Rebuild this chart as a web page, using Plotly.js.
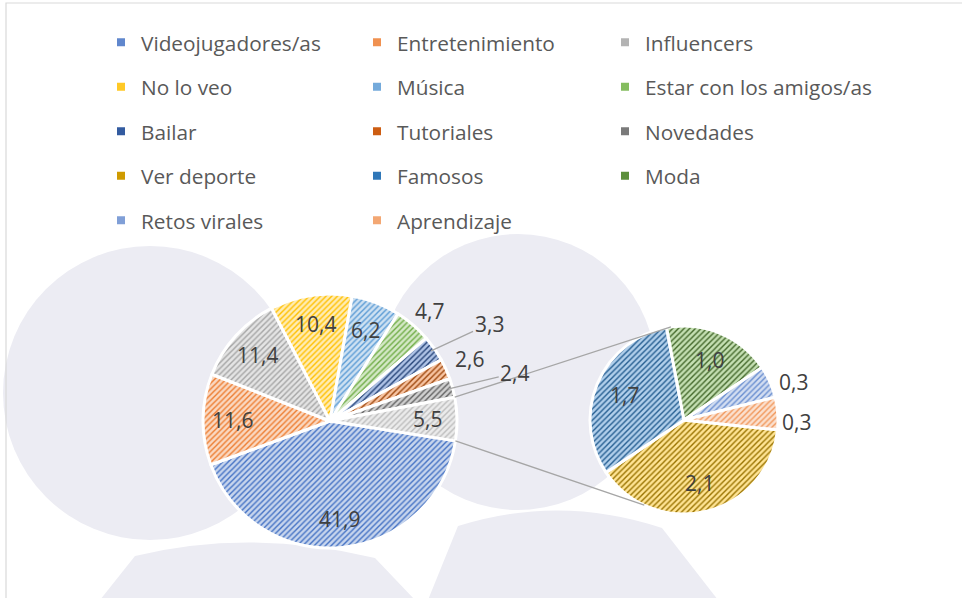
<!DOCTYPE html>
<html>
<head>
<meta charset="utf-8">
<script src="https://cdn.plot.ly/plotly-3.0.1.min.js"></script>
<style>
  html, body { margin: 0; padding: 0; background: #ffffff; }
  #chart { width: 962px; height: 598px; }
</style>
</head>
<body>
<div id="chart"></div>
<script>
// ---------------- DATA ----------------
const mainLabels = ['Videojugadores/as', 'Entretenimiento', 'Influencers', 'No lo veo', 'Música',
                    'Estar con los amigos/as', 'Bailar', 'Tutoriales', 'Novedades', 'Otros'];
const mainValues = [41.9, 11.6, 11.4, 10.4, 6.2, 4.7, 3.3, 2.6, 2.4, 5.5];

const subLabels = ['Ver deporte', 'Famosos', 'Moda', 'Retos virales', 'Aprendizaje'];
const subValues = [2.1, 1.7, 1.0, 0.3, 0.3];

// legend columns (as laid out in the reference, read row by row)
const legendCol1 = ['Videojugadores/as', 'No lo veo', 'Bailar', 'Ver deporte', 'Retos virales'];
const legendCol2 = ['Entretenimiento', 'Música', 'Tutoriales', 'Famosos', 'Aprendizaje'];
const legendCol3 = ['Influencers', 'Estar con los amigos/as', 'Novedades', 'Moda'];

const baseColors = {
  'Videojugadores/as': '#4472C4',
  'Entretenimiento': '#ED7D31',
  'Influencers': '#A5A5A5',
  'No lo veo': '#FFC000',
  'Música': '#5B9BD5',
  'Estar con los amigos/as': '#70AD47',
  'Bailar': '#264478',
  'Tutoriales': '#9E480E',
  'Novedades': '#636363',
  'Ver deporte': '#997300',
  'Famosos': '#255E91',
  'Moda': '#43682B',
  'Retos virales': '#698ED0',
  'Aprendizaje': '#F1975A',
  'Otros': '#BDBDBD'
};

// ---------------- LAYOUT GEOMETRY (px) ----------------
const W = 962, H = 598;
const FONT = 'Open Sans, Noto Sans, sans-serif';
const mainGeo = { cx: 330, cy: 421, r: 127, rot: 99, labelR: 98 };
const subGeo  = { cx: 684, cy: 420, r: 94,  rot: 96, labelR: 65 };

function px2x(x) { return x / W; }
function py2y(y) { return 1 - y / H; }
function dom(g) {
  return { x: [px2x(g.cx - g.r), px2x(g.cx + g.r)], y: [py2y(g.cy + g.r), py2y(g.cy - g.r)] };
}
function pt(g, ang, r) {
  const a = ang * Math.PI / 180;
  return [g.cx + r * Math.sin(a), g.cy - r * Math.cos(a)];
}

// HSL tint
function tint(hex, t) {
  let r = parseInt(hex.slice(1, 3), 16) / 255, g = parseInt(hex.slice(3, 5), 16) / 255, b = parseInt(hex.slice(5, 7), 16) / 255;
  const mx = Math.max(r, g, b), mn = Math.min(r, g, b);
  let h = 0, s = 0, l = (mx + mn) / 2;
  if (mx !== mn) {
    const d = mx - mn;
    s = l > 0.5 ? d / (2 - mx - mn) : d / (mx + mn);
    if (mx === r) h = (g - b) / d + (g < b ? 6 : 0);
    else if (mx === g) h = (b - r) / d + 2;
    else h = (r - g) / d + 4;
    h /= 6;
  }
  l = l + (1 - l) * t;
  function hue2rgb(p, q, tt) {
    if (tt < 0) tt += 1; if (tt > 1) tt -= 1;
    if (tt < 1 / 6) return p + (q - p) * 6 * tt;
    if (tt < 1 / 2) return q;
    if (tt < 2 / 3) return p + (q - p) * (2 / 3 - tt) * 6;
    return p;
  }
  let R, G, B;
  if (s === 0) { R = G = B = l; }
  else {
    const q = l < 0.5 ? l * (1 + s) : l + s - l * s;
    const p = 2 * l - q;
    R = hue2rgb(p, q, h + 1 / 3); G = hue2rgb(p, q, h); B = hue2rgb(p, q, h - 1 / 3);
  }
  const c = v => Math.round(v * 255).toString(16).padStart(2, '0');
  return '#' + c(R) + c(G) + c(B);
}

function markerFor(labels) {
  return {
    colors: labels.map(l => tint(baseColors[l], 0.7)),
    line: { color: '#ffffff', width: 3 },
    pattern: {
      shape: '/',
      fillmode: 'replace',
      fgcolor: labels.map(l => baseColors[l]),
      bgcolor: labels.map(l => tint(baseColors[l], 0.7)),
      size: 4,
      solidity: 0.35
    }
  };
}

const labelFont = { family: FONT, size: 21, color: '#404040' };

// ---------------- TRACES ----------------
const mainTrace = {
  type: 'pie', name: 'main',
  labels: mainLabels, values: mainValues,
  sort: false, direction: 'clockwise', rotation: mainGeo.rot,
  domain: dom(mainGeo),
  showlegend: false,
  marker: markerFor(mainLabels),
  textinfo: 'none',
  hoverinfo: 'label+value'
};

const subTrace = {
  type: 'pie', name: 'sub',
  labels: subLabels, values: subValues,
  sort: false, direction: 'clockwise', rotation: subGeo.rot,
  domain: dom(subGeo),
  showlegend: false,
  marker: markerFor(subLabels),
  textinfo: 'none',
  hoverinfo: 'label+value'
};

// legend carriers: tiny pies that only feed the three legend columns
const allLabels = mainLabels.concat(subLabels);
const allValues = mainValues.concat(subValues);
function legendCarrier(col, legendId) {
  return {
    type: 'pie', name: legendId,
    labels: col.map(l => '<br><br><span style="font-size:20.8px">' + l + '</span><br>'),
    values: col.map(l => allValues[allLabels.indexOf(l)]),
    sort: false,
    domain: { x: [0.0005, 0.0006], y: [0.0005, 0.0006] },
    textinfo: 'none', hoverinfo: 'skip',
    marker: { colors: col.map(l => tint(baseColors[l], 0.15)), line: { color: '#ffffff', width: 4 } },
    showlegend: true,
    legend: legendId
  };
}

// ---------------- DATA LABELS (placed along each slice's mid-angle) ----------------
function midAngles(values, rot) {
  const tot = values.reduce((a, b) => a + b, 0);
  const out = [];
  let cum = 0;
  values.forEach(v => { out.push(rot + (cum + v / 2) / tot * 360); cum += v; });
  return out;
}
const fmt = v => v.toFixed(1).replace('.', ',');

// outside labels: offsets (px) from the slice edge, optional leader line
const mainOutside = {
  5: { dx: 19, dy: -17, arrow: false },
  6: { dx: 58, dy: -27, arrow: true },
  7: { dx: 27, dy: -12, arrow: false },
  8: { dx: 66, dy: -16, arrow: true }
};
const subOutside = {
  3: { dx: 27, dy: -1, arrow: false },
  4: { dx: 23, dy: 8, arrow: false }
};

function labelAnnotations(values, geo, outside) {
  const mids = midAngles(values, geo.rot);
  return values.map((v, i) => {
    const o = outside[i];
    const base = { xref: 'paper', yref: 'paper', text: fmt(v), font: labelFont,
      xanchor: 'center', yanchor: 'middle' };
    if (!o) {
      const p = pt(geo, mids[i], geo.labelR);
      return Object.assign(base, { x: px2x(p[0]), y: py2y(p[1]), showarrow: false });
    }
    const p = pt(geo, mids[i], geo.r - 4);
    Object.assign(base, { x: px2x(p[0]), y: py2y(p[1]) });
    if (o.arrow) {
      return Object.assign(base, { showarrow: true, ax: o.dx, ay: o.dy, arrowhead: 0,
        arrowwidth: 1.3, arrowcolor: '#A6A6A6', standoff: 0 });
    }
    return Object.assign(base, { showarrow: false, xshift: o.dx, yshift: -o.dy });
  });
}
const annotations = labelAnnotations(mainValues, mainGeo, mainOutside)
  .concat(labelAnnotations(subValues, subGeo, subOutside));

// ---------------- CONNECTOR LINES (pie of pie) ----------------
const mainTotal = mainValues.reduce((a, b) => a + b, 0);
const otrosIdx = mainLabels.indexOf('Otros');
let cumBefore = 0;
for (let k = 0; k < otrosIdx; k++) cumBefore += mainValues[k];
const otrosStart = mainGeo.rot + cumBefore / mainTotal * 360;
const otrosEnd = otrosStart + mainValues[otrosIdx] / mainTotal * 360;
const pA1 = pt(mainGeo, otrosStart, mainGeo.r);
const pA2 = pt(subGeo, -8, subGeo.r);
const pB1 = pt(mainGeo, otrosEnd, mainGeo.r);
const pB2 = pt(subGeo, 205, subGeo.r);

const wm = '#ECECF3';
function circ(cx, cy, r) {
  return { type: 'circle', xref: 'paper', yref: 'paper', layer: 'below',
    x0: px2x(cx - r), x1: px2x(cx + r), y0: py2y(cy + r), y1: py2y(cy - r),
    fillcolor: wm, line: { width: 0 } };
}
function P(x, y) { return px2x(x).toFixed(5) + ',' + py2y(y).toFixed(5); }

const shapes = [
  // watermark heads & bodies
  circ(150, 393, 147),
  circ(518, 372, 138),
  { type: 'path', xref: 'paper', yref: 'paper', layer: 'below', fillcolor: wm, line: { width: 0 },
    path: 'M' + P(100, 600) + ' L' + P(135, 556) + ' Q' + P(250, 528) + ' ' + P(375, 558) + ' L' + P(415, 600) + ' Z' },
  { type: 'path', xref: 'paper', yref: 'paper', layer: 'below', fillcolor: wm, line: { width: 0 },
    path: 'M' + P(428, 600) + ' L' + P(458, 526) + ' Q' + P(560, 494) + ' ' + P(662, 528) + ' L' + P(718, 600) + ' Z' },
  // frame
  { type: 'rect', xref: 'paper', yref: 'paper', layer: 'above',
    x0: px2x(6), x1: px2x(975), y0: py2y(610), y1: py2y(3),
    line: { color: '#D9D9D9', width: 1.2 }, fillcolor: 'rgba(0,0,0,0)' },
  // connectors
  { type: 'line', xref: 'paper', yref: 'paper', layer: 'above',
    x0: px2x(pA1[0]), y0: py2y(pA1[1]), x1: px2x(pA2[0]), y1: py2y(pA2[1]),
    line: { color: '#A6A6A6', width: 1.3 } },
  { type: 'line', xref: 'paper', yref: 'paper', layer: 'above',
    x0: px2x(pB1[0]), y0: py2y(pB1[1]), x1: px2x(pB2[0]), y1: py2y(pB2[1]),
    line: { color: '#A6A6A6', width: 1.3 } }
];

function legendBox(symbolX) {
  return {
    orientation: 'v', x: px2x(symbolX - 20), xanchor: 'left', y: py2y(15), yanchor: 'top',
    font: { family: FONT, size: 7.98, color: '#595959' },
    bgcolor: 'rgba(0,0,0,0)', borderwidth: 0, traceorder: 'normal',
    itemclick: false, itemdoubleclick: false
  };
}

const layout = {
  width: W, height: H,
  margin: { l: 0, r: 0, t: 0, b: 0, autoexpand: false },
  paper_bgcolor: '#ffffff', plot_bgcolor: '#ffffff',
  separators: ',.',
  font: { family: FONT, color: '#595959' },
  showlegend: true,
  legend: legendBox(121),
  legend2: legendBox(377),
  legend3: legendBox(625),
  annotations: annotations,
  shapes: shapes
};

Plotly.newPlot('chart', [mainTrace, subTrace,
  legendCarrier(legendCol1, 'legend'), legendCarrier(legendCol2, 'legend2'), legendCarrier(legendCol3, 'legend3')],
  layout, { displayModeBar: false, staticPlot: true });
</script>
</body>
</html>
